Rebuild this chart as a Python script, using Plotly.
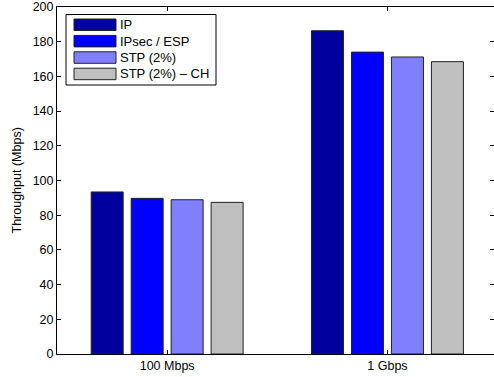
import plotly.graph_objects as go

categories = ["100 Mbps", "1 Gbps"]
series_names = ["IP", "IPsec / ESP", "STP (2%)", "STP (2%) \u2013 CH"]
values_ip = [93.4, 186.3]
values_ipsec = [89.7, 174.0]
values_stp = [88.9, 171.2]
values_stp_ch = [87.4, 168.5]
series_values = [values_ip, values_ipsec, values_stp, values_stp_ch]
colors = ["#00009F", "#0000FF", "#8080FF", "#C0C0C0"]
y_ticks = list(range(0, 201, 20))

W, H = 494, 377
ML, MT, MB, MR = 57, 7, 23, 0
PW, PH = W - ML - MR, H - MT - MB
FONT = "Liberation Sans, Arial, Helvetica, sans-serif"

fig = go.Figure()
for name, vals, col in zip(series_names, series_values, colors):
    fig.add_trace(go.Bar(
        x=categories, y=vals, name=name,
        marker=dict(color=col, line=dict(color="#222222", width=1)),
        showlegend=False,
    ))

# custom legend (wide swatches like the original)
def px_x(p):
    return (p - ML) / PW

def px_y(p):
    return (H - MB - p) / PH

shapes = [dict(type="rect", xref="paper", yref="paper",
               x0=px_x(66), x1=px_x(216), y0=px_y(85), y1=px_y(14.5),
               fillcolor="white", line=dict(color="black", width=1), layer="above")]
annotations = []
row_top = 19.0
pitch = 16.4
for i, (name, col) in enumerate(zip(series_names, colors)):
    t = row_top + i * pitch
    shapes.append(dict(type="rect", xref="paper", yref="paper",
                       x0=px_x(74), x1=px_x(116), y0=px_y(t + 11.5), y1=px_y(t),
                       fillcolor=col, line=dict(color="#222222", width=1), layer="above"))
    annotations.append(dict(xref="paper", yref="paper", x=px_x(117.5), y=px_y(t + 5.8),
                            text=name, showarrow=False, xanchor="left", yanchor="middle",
                            font=dict(family=FONT, size=13, color="black")))

annotations.append(dict(xref="paper", yref="paper", x=px_x(16), y=0.5,
                        text="Throughput (Mbps)", textangle=-90, showarrow=False,
                        xanchor="center", yanchor="middle",
                        font=dict(family=FONT, size=12.5, color="black")))

fig.update_layout(
    width=W, height=H,
    margin=dict(l=ML, r=MR, t=MT, b=MB, pad=0),
    paper_bgcolor="white", plot_bgcolor="white",
    barmode="group", bargap=0.274, bargroupgap=0.2,
    font=dict(family=FONT, size=12.5, color="black"),
    shapes=shapes, annotations=annotations,
    showlegend=False,
)
fig.update_xaxes(
    range=[-0.5, -0.5 + PW / 220.3],
    showline=True, linecolor="black", linewidth=1, mirror="ticks",
    ticks="inside", ticklen=4, tickcolor="black", tickwidth=1,
    showgrid=False, zeroline=False,
    tickfont=dict(family=FONT, size=12.5, color="black"),
)
fig.update_yaxes(
    range=[0, 200], tickvals=y_ticks,
    showline=True, linecolor="black", linewidth=1, mirror="ticks",
    ticks="inside", ticklen=4, tickcolor="black", tickwidth=1,
    showgrid=False, zeroline=False,
    tickfont=dict(family=FONT, size=12.5, color="black"),
)

fig.write_html("out.html")
